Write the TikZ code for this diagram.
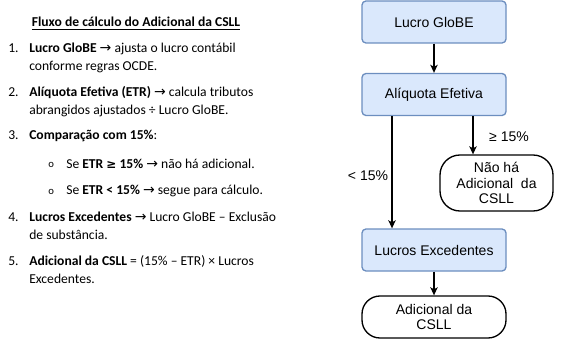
\documentclass[tikz,border=0pt]{standalone}
\usepackage{fontspec}
\setmainfont{Carlito}
\newfontfamily\flowfont{Liberation Sans}
\newfontfamily\dvfont{DejaVu Sans}
\usetikzlibrary{arrows.meta}
\definecolor{bfill}{HTML}{DAE8FC}
\definecolor{bline}{HTML}{6C8EBF}
\newcommand{\myarr}{{\dvfont\fontsize{10.5}{12}\selectfont →}}
\newcommand{\mygeq}{{\dvfont\bfseries\fontsize{9}{12}\selectfont ≥}}
\begin{document}
\begin{tikzpicture}[x=0.75pt,y=-0.75pt,
  txt/.style={anchor=base west,inner sep=0pt,font=\fontsize{10.2}{12}\selectfont},
  bluebox/.style={draw=bline,fill=bfill,line width=1pt,rounded corners=3pt,
    minimum width=108pt,minimum height=31.5pt,inner sep=0pt,
    font=\flowfont\fontsize{10.5}{12.5}\selectfont,align=center},
  termbox/.style={draw=black,fill=white,line width=1pt,
    inner sep=0pt,font=\flowfont\fontsize{10.5}{11.5}\selectfont,align=center},
  conn/.style={line width=1pt,-{Stealth[length=6pt,width=5.5pt,inset=1.5pt]}},
  lbl/.style={inner sep=0pt,font=\flowfont\fontsize{10.5}{12.5}\selectfont}]
\useasboundingbox (0,0) rectangle (567,342);
% left text
\node[anchor=base,inner sep=0pt,font=\fontsize{10.2}{12}\selectfont\bfseries] (title) at (136,27) {\underline{Fluxo de cálculo do Adicional da CSLL}};
\node[txt] (n1) at (8,53) {1.};
\node[txt] (t1a) at (29,53) {\textbf{Lucro GloBE} \myarr{} ajusta o lucro contábil};
\node[txt] (t1b) at (29,71) {conforme regras OCDE.};
\node[txt] (n2) at (8,97) {2.};
\node[txt] (t2a) at (29,97) {\textbf{Alíquota Efetiva (ETR)} \myarr{} calcula tributos};
\node[txt] (t2b) at (29,115) {abrangidos ajustados ÷ Lucro GloBE.};
\node[txt] (n3) at (8,140) {3.};
\node[txt] (t3) at (29,140) {\textbf{Comparação com 15\%}:};
\node[txt,font=\fontsize{8}{10}\selectfont] (b1) at (48,167) {o};
\node[txt] (t3a) at (66,168) {Se \textbf{ETR \mygeq{} 15\%} \myarr{} não há adicional.};
\node[txt,font=\fontsize{8}{10}\selectfont] (b2) at (48,194) {o};
\node[txt] (t3b) at (66,195) {Se \textbf{ETR < 15\%} \myarr{} segue para cálculo.};
\node[txt] (n4) at (8,221) {4.};
\node[txt] (t4a) at (29,221) {\textbf{Lucros Excedentes} \myarr{} Lucro GloBE – Exclusão};
\node[txt] (t4b) at (29,239) {de substância.};
\node[txt] (n5) at (8,265) {5.};
\node[txt] (t5a) at (29,265) {\textbf{Adicional da CSLL} = (15\% – ETR) × Lucros};
\node[txt] (t5b) at (29,283) {Excedentes.};
% flowchart
\node[bluebox] (A) at (434,22) {Lucro GloBE};
\node[bluebox] (B) at (434,94.5) {Alíquota Efetiva};
\node[termbox,minimum width=84.75pt,minimum height=42pt,rounded corners=15pt] (C) at (496.5,183) {Não há\\Adicional\ \ da\\CSLL};
\node[bluebox] (D) at (434,250) {Lucros Excedentes};
\node[termbox,minimum width=108pt,minimum height=31.5pt,rounded corners=13.5pt] (E) at (434,317) {Adicional da\\CSLL};
\draw[conn] (A) -- (B);
\draw[conn] ([xshift=-31.5pt]B.south) -- ([xshift=-31.5pt]D.north);
\draw[conn] ([xshift=29.25pt]B.south) -- ([xshift=29.25pt]B.south |- C.north);
\draw[conn] (D) -- (E);
\node[lbl] (g15) at (509,137) {≥ 15\%};
\node[lbl] (l15) at (368,176) {< 15\%};
\end{tikzpicture}
\end{document}
